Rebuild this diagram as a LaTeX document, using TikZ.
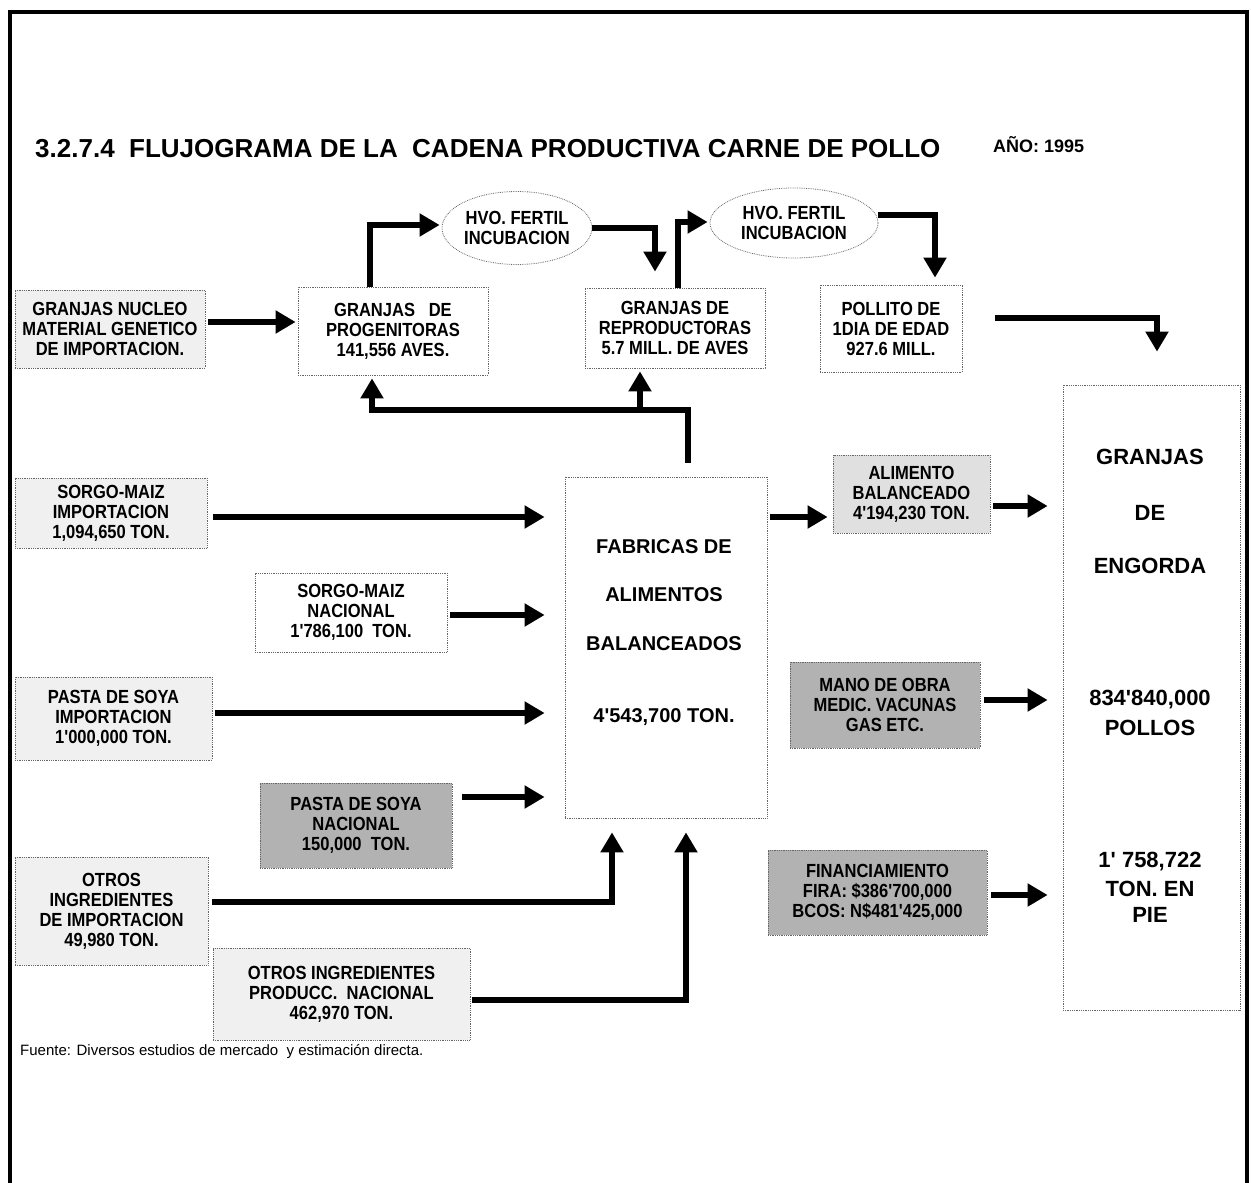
\documentclass[tikz,border=0pt]{standalone}
\usepackage{fontspec}
\setmainfont{Liberation Sans}
\newfontfamily\narrowf{Liberation Sans}[FakeStretch=0.87]
\newfontfamily\plainf{Liberation Sans}
\usetikzlibrary{arrows.meta,shapes.geometric}
\tikzset{
  box/.style={draw=black!60, densely dotted, line width=0.8pt, inner sep=0pt, align=center,
    font=\narrowf\bfseries\fontsize{19}{20}\selectfont},
  heavy/.style={fill=black!30},
  light/.style={fill=black!6},
  mid/.style={fill=black!12},
  ell/.style={ellipse, draw=black!60, densely dotted, line width=0.8pt, inner sep=0pt, align=center,
    font=\narrowf\bfseries\fontsize{19}{20}\selectfont},
  arr/.style={line width=6pt, line join=miter, -{Triangle[length=20pt,width=22pt]}},
  fabt/.style={font=\plainf\bfseries\fontsize{20}{24}\selectfont, inner sep=0pt},
  engt/.style={font=\plainf\bfseries\fontsize{22}{26}\selectfont, inner sep=0pt},
}
\begin{document}
\begin{tikzpicture}[x=1pt,y=-1pt]
\useasboundingbox (0,0) rectangle (1251,1183);
% frame
\draw[line width=4.5pt, line join=miter] (10,1183) -- (10,12) -- (1247,12) -- (1247,1183);
% title
\node[anchor=base west, inner sep=0pt, font=\bfseries\fontsize{26}{30}\selectfont] (title) at (35,157)
  {3.2.7.4 \ FLUJOGRAMA DE LA \ CADENA PRODUCTIVA CARNE DE POLLO};
\node[anchor=base west, inner sep=0pt, font=\bfseries\fontsize{18}{20}\selectfont] (anio) at (993,152) {AÑO: 1995};
% boxes
\node[box, light, minimum width=190, minimum height=78] (nucleo) at (110,329) {GRANJAS NUCLEO\\MATERIAL GENETICO\\DE IMPORTACION.};
\node[box, minimum width=190, minimum height=88] (prog) at (393,331) {GRANJAS \ \ DE\\PROGENITORAS\\141,556 AVES.};
\node[box, minimum width=180, minimum height=80] (repro) at (675,328) {GRANJAS DE\\REPRODUCTORAS\\5.7 MILL. DE AVES};
\node[box, minimum width=142, minimum height=87] (pollito) at (891,328.5) {POLLITO DE\\1DIA DE EDAD\\927.6 MILL.};
\node[ell, minimum width=150, minimum height=73] (ell1) at (517,228) {HVO. FERTIL\\INCUBACION};
\node[ell, minimum width=168, minimum height=70] (ell2) at (794,223) {HVO. FERTIL\\INCUBACION};
\node[box, minimum width=177, minimum height=625] (engorda) at (1151.5,697.5) {};
\node[box, minimum width=202, minimum height=341] (fab) at (666,647.5) {};
\node[box, mid, minimum width=157, minimum height=78] (alim) at (911.5,494) {ALIMENTO\\BALANCEADO\\4'194,230 TON.};
\node[box, light, minimum width=192, minimum height=70] (sorgoimp) at (111,513) {SORGO-MAIZ\\IMPORTACION\\1,094,650 TON.};
\node[box, minimum width=192, minimum height=79] (sorgonac) at (351,612.5) {SORGO-MAIZ\\NACIONAL\\1'786,100 \ TON.};
\node[box, light, minimum width=197, minimum height=83] (pastaimp) at (113.5,718.5) {PASTA DE SOYA\\IMPORTACION\\1'000,000 TON.};
\node[box, heavy, minimum width=192, minimum height=85] (pastanac) at (356,825.5) {PASTA DE SOYA\\NACIONAL\\150,000 \ TON.};
\node[box, light, minimum width=193, minimum height=108] (otrosimp) at (111.5,911) {OTROS\\INGREDIENTES\\DE IMPORTACION\\49,980 TON.};
\node[box, light, minimum width=257, minimum height=92] (otrosnac) at (341.5,994) {OTROS INGREDIENTES\\PRODUCC. \ NACIONAL\\462,970 TON.};
\node[box, heavy, minimum width=190, minimum height=86] (mano) at (885,705) {MANO DE OBRA\\MEDIC. VACUNAS\\GAS ETC.};
\node[box, heavy, minimum width=219, minimum height=85] (fin) at (877.5,892.5) {FINANCIAMIENTO\\FIRA: \$386'700,000\\BCOS: N\$481'425,000};
% texts in big boxes
\node[fabt] (fab1) at (664,547) {FABRICAS DE};
\node[fabt] (fab2) at (664,595) {ALIMENTOS};
\node[fabt] (fab3) at (664,644) {BALANCEADOS};
\node[fabt] (fab4) at (664,717) {4'543,700 TON.};
\node[engt] (eng1) at (1150,457) {GRANJAS};
\node[engt] (eng2) at (1150,513) {DE};
\node[engt] (eng3) at (1150,566) {ENGORDA};
\node[engt] (eng4) at (1150,700) {834'840,000};
\node[engt] (eng5) at (1150,728) {POLLOS};
\node[engt] (eng6) at (1150,862) {1' 758,722};
\node[engt] (eng7) at (1150,889) {TON. EN};
\node[engt] (eng8) at (1150,915) {PIE};
% source
\node[anchor=base west, inner sep=0pt, font=\fontsize{15}{17}\selectfont] (fuente) at (20,1055)
  {Fuente: Diversos estudios de mercado \ y estimación directa.};
% arrows
\draw[arr, shorten <=3pt, shorten >=2pt] (nucleo.east |- 0,322) -- (prog.west |- 0,322);
\draw[arr, shorten >=2pt] (prog.north -| 370,0) -- (370,225) -- (ell1.west |- 0,225);
\draw[arr, shorten >=16pt] (ell1.east) -- (655,228) -- (repro.north -| 655,0);
\draw[arr, shorten >=2pt] (repro.north -| 678,0) -- (678,222) -- (ell2.west |- 0,222);
\draw[arr, shorten >=7pt] (ell2.east |- 0,215) -- (935,215) -- (pollito.north -| 935,0);
\draw[arr, shorten <=33pt, shorten >=33pt] (pollito.east |- 0,318) -- (1157,318) -- (engorda.north -| 1157,0);
\coordinate (junc) at (640,410);
\draw[arr, shorten <=14pt, shorten >=3pt] (fab.north -| 688,0) -- (688,410) -- (372,410) -- (prog.south -| 372,0);
\draw[arr, shorten >=3pt] (junc) -- (repro.south -| junc);
\draw[arr, shorten <=6pt, shorten >=20pt] (sorgoimp.east |- 0,517) -- (fab.west |- 0,517);
\draw[arr, shorten <=3pt, shorten >=20pt] (sorgonac.east |- 0,615) -- (fab.west |- 0,615);
\draw[arr, shorten <=3pt, shorten >=20pt] (pastaimp.east |- 0,713) -- (fab.west |- 0,713);
\draw[arr, shorten <=10pt, shorten >=20pt] (pastanac.east |- 0,797) -- (fab.west |- 0,797);
\draw[arr, shorten <=4pt, shorten >=14pt] (otrosimp.east |- 0,902) -- (612,902) -- (fab.south -| 612,0);
\draw[arr, shorten <=2pt, shorten >=14pt] (otrosnac.east |- 0,1000) -- (686,1000) -- (fab.south -| 686,0);
\draw[arr, shorten <=3pt, shorten >=5pt] (fab.east |- 0,517) -- (alim.west |- 0,517);
\draw[arr, shorten <=3pt, shorten >=15pt] (alim.east |- 0,506) -- (engorda.west |- 0,506);
\draw[arr, shorten <=4pt, shorten >=15pt] (mano.east |- 0,700) -- (engorda.west |- 0,700);
\draw[arr, shorten <=4pt, shorten >=15pt] (fin.east |- 0,895) -- (engorda.west |- 0,895);
\end{tikzpicture}
\end{document}
